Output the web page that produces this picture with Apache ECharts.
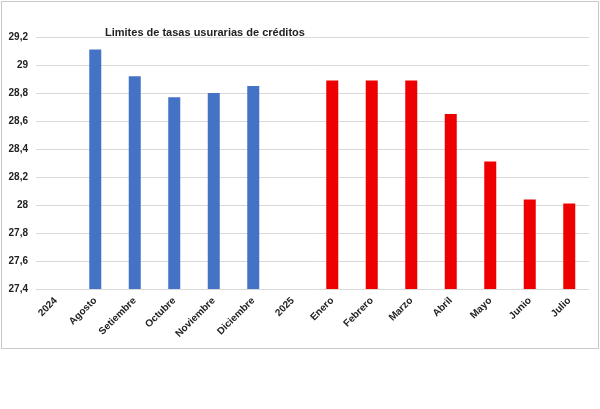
<!DOCTYPE html>
<html><head><meta charset="utf-8">
<script src="https://cdn.jsdelivr.net/npm/echarts@6/dist/echarts.min.js"></script>
<style>body{margin:0;background:#fff}#box{position:absolute;left:1px;top:1px;width:596px;height:346px;border:1px solid #c8c8c8}#c{width:600px;height:409px}</style>
</head><body><div id="box"></div><div id="c"></div>
<script>
const categories=["2024","Agosto","Setiembre","Octubre","Noviembre","Diciembre","2025","Enero","Febrero","Marzo","Abril","Mayo","Junio","Julio"];
const values2024=[null,29.11,28.92,28.77,28.80,28.85,null,null,null,null,null,null,null,null];
const values2025=[null,null,null,null,null,null,null,28.89,28.89,28.89,28.65,28.31,28.04,28.01];
const chart=echarts.init(document.getElementById('c'));
const fmt=v=>String(+v.toFixed(1)).replace('.',',');
chart.setOption({
 animation:false,
 title:{text:'Limites de tasas usurarias de créditos',left:100,top:22,textStyle:{fontSize:11,fontWeight:'bold',color:'#222',fontFamily:'Arial'}},
 grid:{left:36,right:11,top:37,bottom:120},
 xAxis:{type:'category',data:categories,axisTick:{show:false},axisLine:{lineStyle:{color:'#d9d9d9'}},
  axisLabel:{interval:0,rotate:45,fontSize:10,fontWeight:'bold',color:'#222',fontFamily:'Arial',margin:10}},
 yAxis:{type:'value',min:27.4,max:29.2,interval:0.2,axisLine:{show:false},axisTick:{show:false},
  splitLine:{lineStyle:{color:'#d9d9d9'}},
  axisLabel:{formatter:fmt,fontSize:10,fontWeight:'bold',color:'#222',fontFamily:'Arial'}},
 series:[
  {type:'bar',data:values2024,barWidth:12,barGap:'-100%',itemStyle:{color:'#4472C4'}},
  {type:'bar',data:values2025,barWidth:12,itemStyle:{color:'#EE0000'}}
 ]
});
</script></body></html>
